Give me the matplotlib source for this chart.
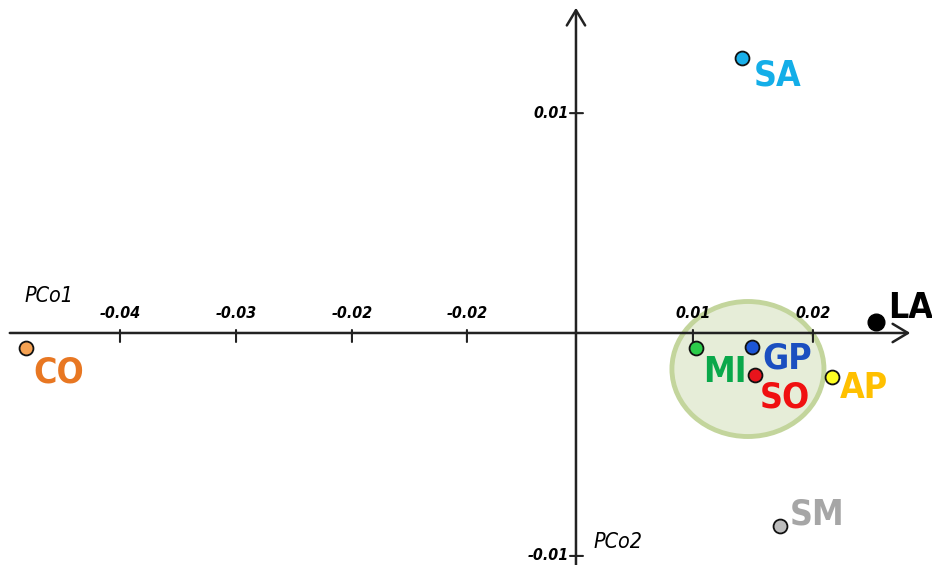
import matplotlib
matplotlib.use("Agg")
import matplotlib.pyplot as plt
from matplotlib.patches import Ellipse
from matplotlib import font_manager

# Daten
namen = ["SA", "LA", "CO", "MI", "GP", "SO", "AP", "SM"]
pco1 = [0.01425, 0.02575, -0.04721, 0.0103, 0.01511, 0.01536, 0.02197, 0.01751]
pco2 = [0.01244, 0.0005, -0.00068, -0.00068, -0.00063, -0.0019, -0.00199, -0.00873]
punkt_farben = ["#1ab0ea", "#000000", "#f5a253", "#2ccc4a", "#1c55d6", "#e8141c", "#ffff22", "#bdbdbd"]
text_farben = ["#14aee8", "#000000", "#e87722", "#0aa84a", "#1b4fc0", "#f01010", "#ffc000", "#a6a6a6"]
# Textversatz in Pixel (dx, dy) relativ zum Punkt
versatz = [(12, -27), (12, 4), (7, -34), (7, -34), (10, -22), (5, -33), (8, -21), (10, 1)]

# Ticks stehen im Original nicht ganz gleichmaessig
x_ticks = [-0.03914, -0.02918, -0.01923, -0.00936, 0.01004, 0.02034]
x_tick_labels = ["-0.04", "-0.03", "-0.02", "-0.02", "0.01", "0.02"]
y_ticks = [0.00995, -0.01009]
y_tick_labels = ["0.01", "-0.01"]

# Gruppe (Ellipse)
ell_mitte = (0.01476, -0.00163)
ell_breite = 0.01305
ell_hoehe = 0.00611

# schmale Schrift suchen
fonts = font_manager.fontManager.ttflist
namen_inst = {f.name for f in fonts}
if "Liberation Sans Narrow" in namen_inst:
    fam, stretch, k = "Liberation Sans Narrow", "normal", 1.0
elif any(f.name == "DejaVu Sans" and f.stretch == "condensed" for f in fonts):
    fam, stretch, k = "DejaVu Sans", "condensed", 0.88
else:
    fam, stretch, k = "DejaVu Sans", "normal", 0.8

fig = plt.figure(figsize=(9.32, 5.65), dpi=100)
ax = fig.add_axes([0, 0, 1, 1])
ax.set_xlim(-0.04944, 0.03056)
ax.set_ylim(-0.0105, 0.01507)
ax.axis("off")

achse = "#222222"
pfeil = dict(arrowstyle="->, head_length=0.5, head_width=0.3", lw=1.8, color=achse,
             mutation_scale=22, shrinkA=0, shrinkB=0)
ax.annotate("", xy=(0.0287, 0), xytext=(-0.0486, 0), arrowprops=pfeil, zorder=2)
ax.annotate("", xy=(0, 0.01472), xytext=(0, -0.0105), arrowprops=pfeil, zorder=2)

strich = dict(arrowstyle="-", lw=1.5, color=achse, shrinkA=0, shrinkB=0)
tickfont = dict(fontsize=13 * k, style="italic", family=fam, fontstretch=stretch,
                fontweight="semibold")
for xt, lab in zip(x_ticks, x_tick_labels):
    ax.annotate("", xy=(xt, 0), xytext=(0, -9), textcoords="offset pixels", arrowprops=strich)
    ax.annotate("", xy=(xt, 0), xytext=(0, 3), textcoords="offset pixels", arrowprops=strich)
    ax.annotate(lab, xy=(xt, 0), xytext=(0, 12), textcoords="offset pixels",
                ha="center", va="bottom", **tickfont)
for yt, lab in zip(y_ticks, y_tick_labels):
    ax.annotate("", xy=(0, yt), xytext=(-6, 0), textcoords="offset pixels", arrowprops=strich)
    ax.annotate("", xy=(0, yt), xytext=(7, 0), textcoords="offset pixels", arrowprops=strich)
    ax.annotate(lab, xy=(0, yt), xytext=(-7, 0), textcoords="offset pixels",
                ha="right", va="center", **tickfont)

achsfont = dict(fontsize=17.5 * k, style="italic", family=fam, fontstretch=stretch)
ax.text(-0.0473, 0.0012, "PCo1", va="bottom", **achsfont)
ax.text(0.0015, -0.0099, "PCo2", va="bottom", **achsfont)

ax.add_patch(Ellipse(ell_mitte, ell_breite, ell_hoehe, facecolor="#e6edd8",
                     edgecolor="#c3d59c", lw=3.5, zorder=1))

for n, x, y, pf, tf, (dx, dy) in zip(namen, pco1, pco2, punkt_farben, text_farben, versatz):
    if n == "LA":
        ax.plot(x, y, "o", ms=12, color=pf, zorder=4)
    else:
        ax.plot(x, y, "o", ms=10, markerfacecolor=pf, markeredgecolor="#111111",
                markeredgewidth=1.3, zorder=4)
    ax.annotate(n, xy=(x, y), xytext=(dx, dy), textcoords="offset pixels",
                ha="left", va="baseline", fontsize=29 * k, fontweight="bold",
                family=fam, fontstretch=stretch, color=tf, zorder=5)

plt.savefig("out.png", dpi=100)
